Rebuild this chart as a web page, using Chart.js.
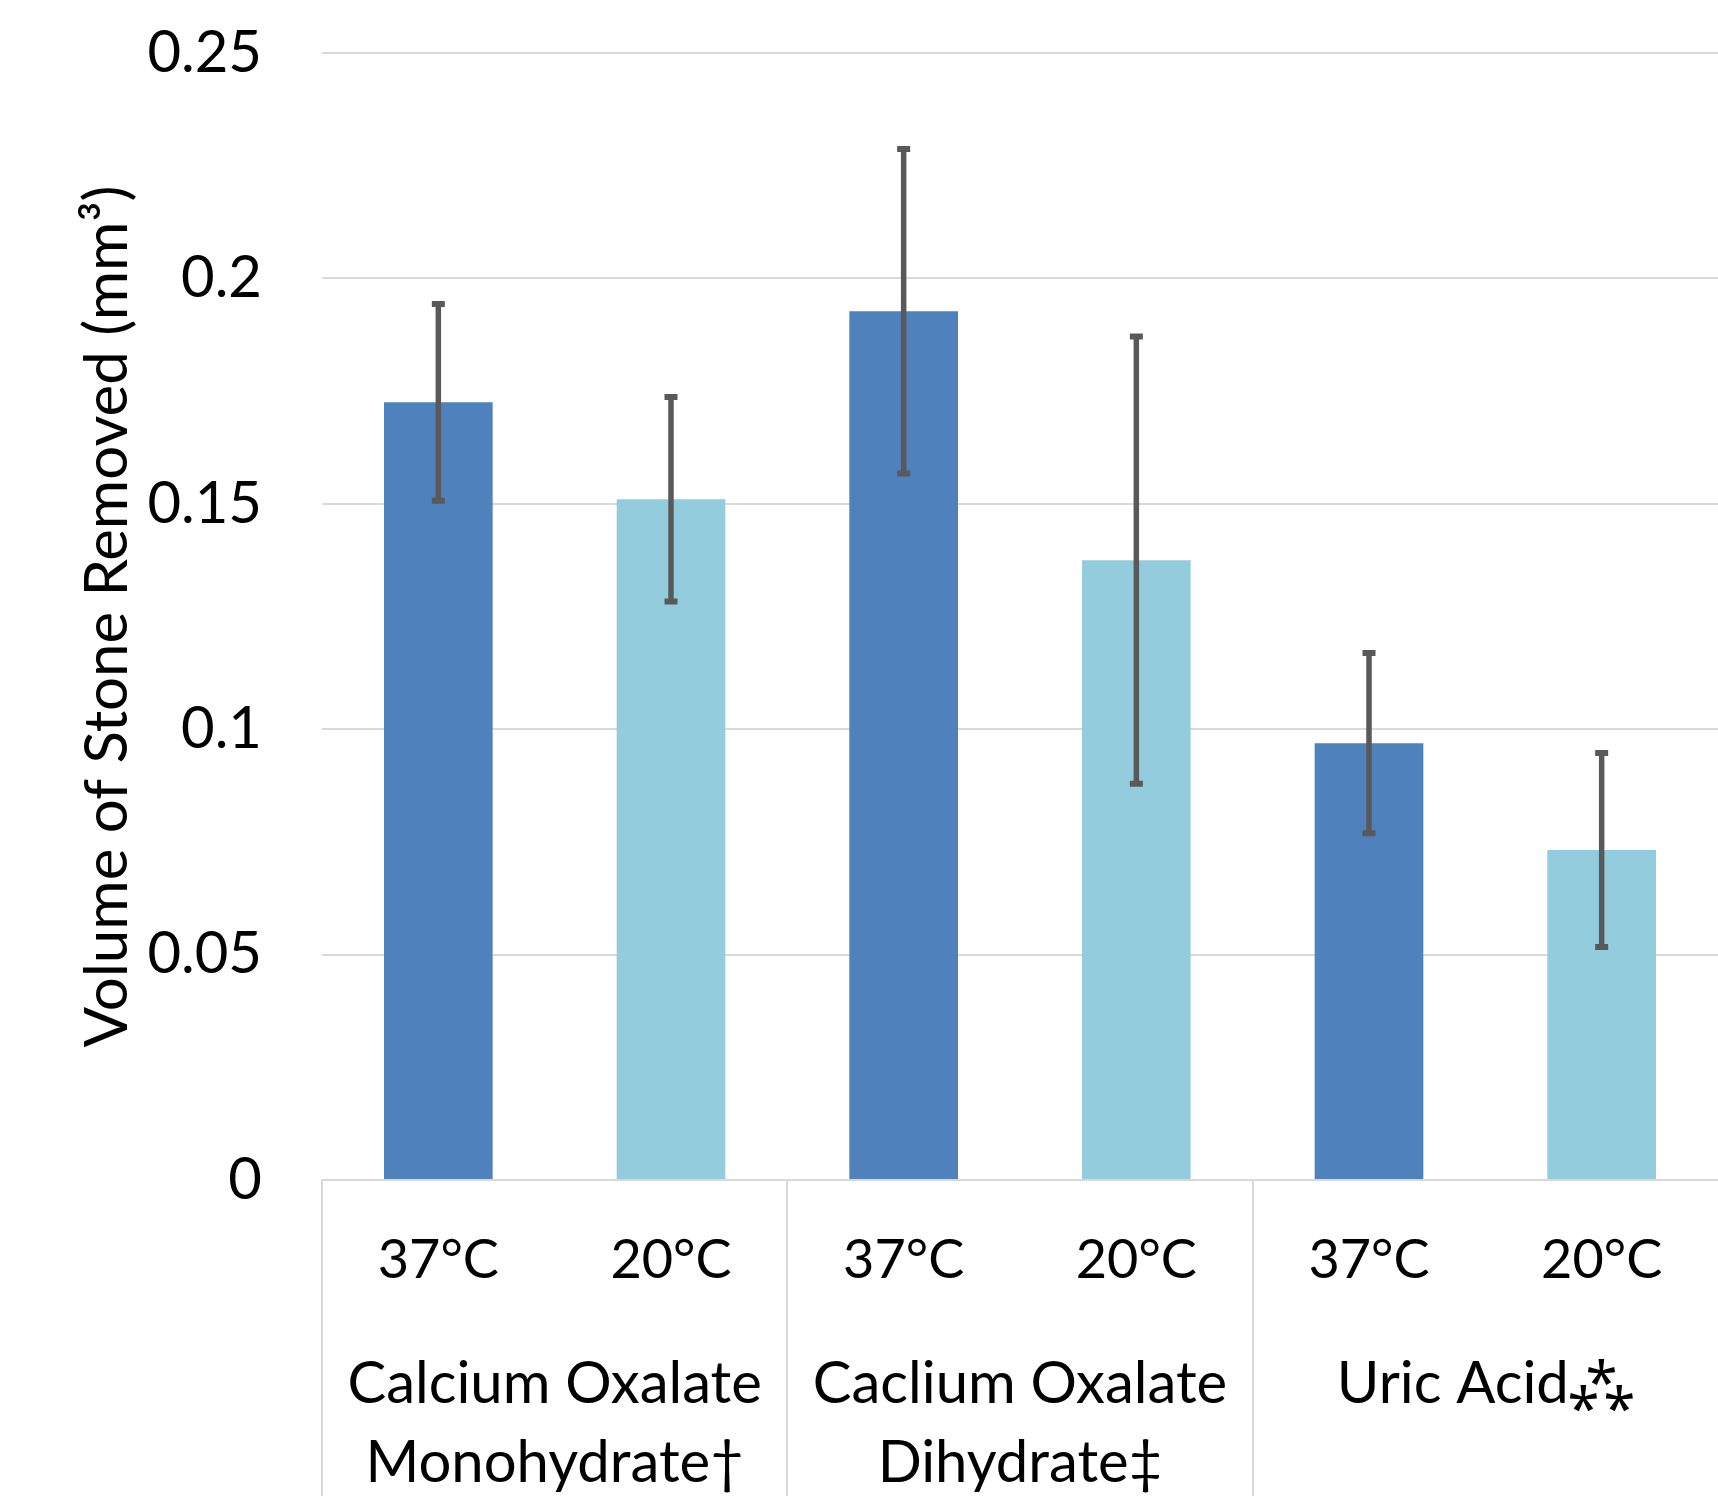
<!DOCTYPE html>
<html>
<head>
<meta charset="utf-8">
<title>Volume of Stone Removed</title>
<script src="https://cdn.jsdelivr.net/npm/chart.js@4.4.1/dist/chart.umd.min.js"></script>
<style>
  html, body { margin: 0; padding: 0; background: #fff; }
  canvas { display: block; }
</style>
</head>
<body>
<canvas id="stoneChart" width="1718" height="1496"></canvas>
<script>
// values
const stoneTypes = [['Calcium Oxalate', 'Monohydrate†'], ['Caclium Oxalate', 'Dihydrate‡'], 'Uric Acid⁂'];
const tempLabels = ['37°C', '20°C', '37°C', '20°C', '37°C', '20°C'];
const volume37 = [0.1725, 0.1927, 0.0969];
const volume20 = [0.151, 0.1375, 0.0732];
const error37 = [0.0218, 0.036, 0.020];
const error20 = [0.0227, 0.0496, 0.0215];
const yTickLabels = ['0', '0.05', '0.1', '0.15', '0.2', '0.25'];

const FONT = 'Lato, "Open Sans", sans-serif';
const GRID = '#d9d9d9';

// error bars drawn on top of the bars
const errorBars = {
    id: 'errorBars',
    afterDatasetsDraw(chart) {
        const ctx = chart.ctx;
        const y = chart.scales.y;
        ctx.save();
        ctx.strokeStyle = '#595959';
        chart.data.datasets.forEach((ds, di) => {
            chart.getDatasetMeta(di).data.forEach((bar, i) => {
                const top = y.getPixelForValue(ds.data[i] + ds.errors[i]);
                const bot = y.getPixelForValue(ds.data[i] - ds.errors[i]);
                ctx.lineWidth = 5.5;
                ctx.beginPath();
                ctx.moveTo(bar.x, top);
                ctx.lineTo(bar.x, bot);
                ctx.stroke();
                ctx.lineWidth = 6;
                ctx.beginPath();
                ctx.moveTo(bar.x - 6.5, top);
                ctx.lineTo(bar.x + 6.5, top);
                ctx.moveTo(bar.x - 6.5, bot);
                ctx.lineTo(bar.x + 6.5, bot);
                ctx.stroke();
            });
        });
        ctx.restore();
    }
};

// vertical separators between the stone groups, below the axis
const groupLines = {
    id: 'groupLines',
    afterDraw(chart) {
        const ctx = chart.ctx;
        const x = chart.scales.x;
        const bottom = chart.chartArea.bottom;
        const half = (x.getPixelForValue(1) - x.getPixelForValue(0)) / 2;
        ctx.save();
        ctx.strokeStyle = GRID;
        ctx.lineWidth = 2;
        for (let i = 0; i < stoneTypes.length; i++) {
            const px = Math.round(x.getPixelForValue(i) - half);
            ctx.beginPath();
            ctx.moveTo(px, bottom);
            ctx.lineTo(px, chart.height);
            ctx.stroke();
        }
        ctx.restore();
    }
};

// fixed axis sizes, no extra padding from label overhang
function fixSize(w, h) {
    return (s) => {
        if (w) s.width = w;
        if (h) s.height = h;
        s.paddingTop = 0;
        s.paddingBottom = 0;
        s.paddingLeft = 0;
        s.paddingRight = 0;
    };
}

new Chart(document.getElementById('stoneChart'), {
    type: 'bar',
    data: {
        labels: stoneTypes,
        datasets: [
            { label: '37°C', data: volume37, errors: error37, backgroundColor: '#4F81BD', xAxisID: 'x',
              categoryPercentage: 1.0, barPercentage: 0.467 },
            { label: '20°C', data: volume20, errors: error20, backgroundColor: '#93CDDD', xAxisID: 'x',
              categoryPercentage: 1.0, barPercentage: 0.467 }
        ]
    },
    options: {
        responsive: false,
        devicePixelRatio: 1,
        animation: false,
        layout: { autoPadding: false, padding: { top: 53, left: 0, right: 0, bottom: 0 } },
        plugins: {
            legend: { display: false },
            tooltip: { enabled: false }
        },
        scales: {
            x: {
                position: 'bottom',
                weight: 1,
                grid: { display: false },
                border: { display: false },
                ticks: { padding: 44, color: '#000', font: { family: FONT, size: 58, lineHeight: '79px' }, maxRotation: 0, autoSkip: false },
                afterFit: fixSize(0, 203)
            },
            temp: {
                type: 'category',
                axis: 'x',
                position: 'bottom',
                labels: tempLabels,
                offset: true,
                weight: 0,
                grid: { display: true, drawOnChartArea: false, drawTicks: false, color: 'rgba(0,0,0,0)' },
                border: { display: true, color: GRID, width: 2 },
                ticks: { padding: 48, color: '#000', font: { family: FONT, size: 54 }, maxRotation: 0, autoSkip: false },
                afterFit: fixSize(0, 113)
            },
            y: {
                min: 0,
                max: 0.25,
                ticks: {
                    stepSize: 0.05,
                    padding: 60,
                    color: '#000',
                    font: { family: FONT, size: 58 },
                    callback: (v, i) => yTickLabels[i]
                },
                grid: { color: GRID, lineWidth: 2, drawTicks: false },
                border: { display: false },
                title: {
                    display: true,
                    text: 'Volume of Stone Removed (mm³)',
                    color: '#000',
                    font: { family: FONT, size: 60 },
                    padding: { top: 72, bottom: 0 }
                },
                afterFit: fixSize(322, 0)
            }
        }
    },
    plugins: [errorBars, groupLines]
});
</script>
</body>
</html>
